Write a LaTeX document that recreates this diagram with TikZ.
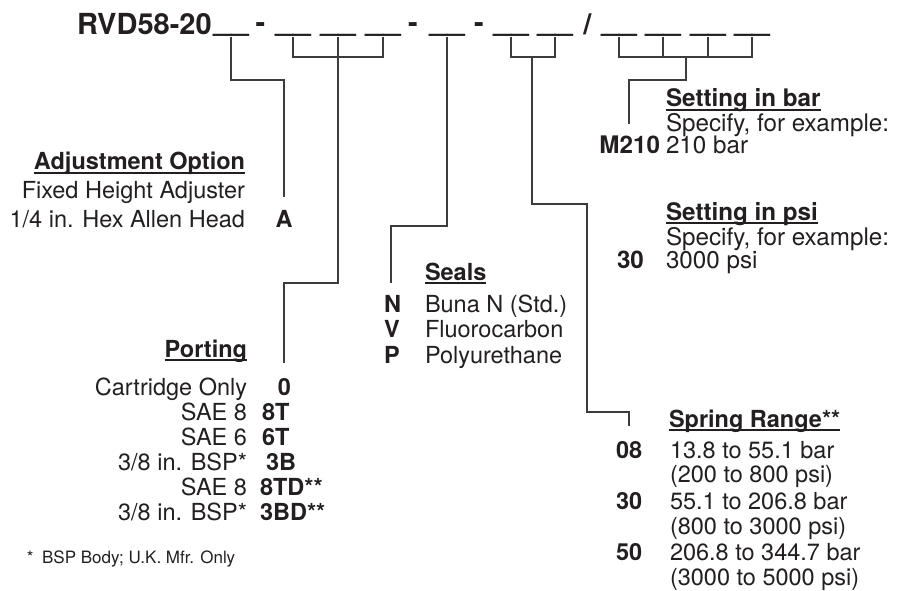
\documentclass[tikz,border=0pt]{standalone}
\usepackage{fontspec}
\setmainfont{TeX Gyre Heros}
\definecolor{ink}{RGB}{35,31,32}
\definecolor{wirec}{RGB}{60,60,60}
\newcommand\hdul[1]{\setbox0\hbox{#1}\rlap{\rule[-3.6pt]{\wd0}{1.3pt}}\box0}
\tikzset{
  txt/.style={inner sep=0pt, outer sep=0pt, text=ink, font=\fontsize{23.5}{25}\selectfont},
  bld/.style={txt, font=\fontsize{23.5}{25}\selectfont\bfseries},
  txtr/.style={txt, font=\fontsize{24.2}{25}\selectfont},
  bldr/.style={txt, font=\fontsize{24.2}{25}\selectfont\bfseries},
  foot/.style={txt, font=\fontsize{17}{19}\selectfont},
  ttl/.style={inner sep=0pt, outer sep=0pt, text=ink, font=\fontsize{29}{30}\selectfont\bfseries},
  us/.style={inner sep=0pt, outer sep=0pt, text=ink, font=\fontsize{31.5}{32}\selectfont\bfseries, anchor=base},
  wire/.style={draw=wirec, line width=1.3pt}
}
\begin{document}
\begin{tikzpicture}[x=1pt,y=-1pt]
\useasboundingbox (0,0) rectangle (908,591);
% title
\node[ttl, anchor=base west] (t0) at (77,35) {RVD58-20};
\node[us] (u1) at (231,31) {\_\_};
\node[ttl, anchor=base] (d1) at (260.5,33) {-};
\node[us] (u2) at (293,31) {\_\_};
\node[us] (u3) at (338,31) {\_\_};
\node[us] (u4) at (383,31) {\_\_};
\node[ttl, anchor=base] (d2) at (413,33) {-};
\node[us] (u5) at (447,31) {\_\_};
\node[ttl, anchor=base] (d3) at (479,33) {-};
\node[us] (u6) at (511,31) {\_\_};
\node[us] (u7) at (555,31) {\_\_};
\node[ttl, anchor=base] (sl) at (587.5,35) {/};
\node[us] (u8) at (619,31) {\_\_};
\node[us] (u9) at (663,31) {\_\_};
\node[us] (u10) at (708,31) {\_\_};
\node[us] (u11) at (752,31) {\_\_};

% coordinates
\coordinate (adjc) at (284,80);
\coordinate (adje) at (284,197);
\coordinate (pbr) at (338,57);
\coordinate (pc) at (284,283);
\coordinate (pe) at (284,363);
\coordinate (sc) at (391,226);
\coordinate (se) at (391,283);
\coordinate (sm) at (532,57);
\coordinate (k1) at (587,204);
\coordinate (k2) at (629,412);
\coordinate (k3) at (629,426);
\coordinate (bm) at (686,57);
\coordinate (bc) at (629,80);
\coordinate (be) at (629,124);

% connectors
\draw[wire] (u1.south) |- (adjc) -- (adje);
\draw[wire] (u2.south) -- (u2.south |- pbr) -- (u4.south |- pbr) -- (u4.south);
\draw[wire] (u3.south) |- (pc) -- (pe);
\draw[wire] (u5.south) |- (sc) -- (se);
\draw[wire] (u6.south) -- (u6.south |- sm) -- (u7.south |- sm) -- (u7.south);
\draw[wire] (sm) |- (k1) |- (k2) -- (k3);
\draw[wire] (u8.south) -- (u8.south |- bm) -- (u11.south |- bm) -- (u11.south);
\draw[wire] (u9.south) -- (u9.south |- bm);
\draw[wire] (u10.south) -- (u10.south |- bm);
\draw[wire] (bm) |- (bc) -- (be);

% Adjustment option
\node[bld, anchor=base east] (adjh) at (245,170) {\hdul{Adjustment Option}};
\node[txt, anchor=base east] (adj1) at (245,199) {Fixed Height Adjuster};
\node[txt, anchor=base east] (adj2) at (245,227) {1/4 in. Hex Allen Head};
\node[bld, anchor=base] (adjA) at (284,227) {A};

% Porting
\node[bld, anchor=base east] (porh) at (247,357) {\hdul{Porting}};
\node[txt, anchor=base east] (por1) at (247,395) {Cartridge Only};
\node[txt, anchor=base east] (por2) at (247,420) {SAE 8};
\node[txt, anchor=base east] (por3) at (247,445) {SAE 6};
\node[txt, anchor=base east] (por4) at (247,470) {3/8 in. BSP*};
\node[txt, anchor=base east] (por5) at (247,495) {SAE 8};
\node[txt, anchor=base east] (por6) at (247,520) {3/8 in. BSP*};
\node[bld, anchor=base] (pc1) at (284.5,395) {0};
\node[bld, anchor=base west] (pc2) at (262,420) {8T};
\node[bld, anchor=base west] (pc3) at (262,445) {6T};
\node[bld, anchor=base west] (pc4) at (266,470) {3B};
\node[bld, anchor=base west] (pc5) at (260,495) {8TD**};
\node[bld, anchor=base west] (pc6) at (260,520) {3BD**};
\node[foot, anchor=base west] (fn) at (27,563) {*\hspace{8.5pt}BSP Body; U.K. Mfr. Only};

% Seals
\node[bld, anchor=base west] (seh) at (425,280) {\hdul{Seals}};
\node[bld, anchor=base west] (sec1) at (384,312) {N};
\node[bld, anchor=base west] (sec2) at (384,337.5) {V};
\node[bld, anchor=base west] (sec3) at (384,363) {P};
\node[txt, anchor=base west] (se1) at (425,312) {Buna N (Std.)};
\node[txt, anchor=base west] (se2) at (425,337.5) {Fluorocarbon};
\node[txt, anchor=base west] (se3) at (425,363) {Polyurethane};

% Setting in bar
\node[bldr, anchor=base west] (sbh) at (666,107) {\hdul{Setting in bar}};
\node[txtr, anchor=base west] (sb1) at (666,132) {Specify, for example:};
\node[bldr, anchor=base east] (sbc) at (660,154) {M210};
\node[txtr, anchor=base west] (sb2) at (666,154) {210 bar};

% Setting in psi
\node[bldr, anchor=base west] (sph) at (666,220) {\hdul{Setting in psi}};
\node[txtr, anchor=base west] (sp1) at (666,245) {Specify, for example:};
\node[bldr, anchor=base west] (spc) at (617,268) {30};
\node[txtr, anchor=base west] (sp2) at (666,268) {3000 psi};

% Spring range
\node[bld, anchor=base west] (srh) at (669,427) {\hdul{Spring Range**}};
\node[bld, anchor=base west] (src1) at (616,458) {08};
\node[txt, anchor=base west] (sr1) at (670,458) {13.8 to 55.1 bar};
\node[txt, anchor=base west] (sr1b) at (670,482.5) {(200 to 800 psi)};
\node[bld, anchor=base west] (src2) at (616,509) {30};
\node[txt, anchor=base west] (sr2) at (670,509) {55.1 to 206.8 bar};
\node[txt, anchor=base west] (sr2b) at (670,534) {(800 to 3000 psi)};
\node[bld, anchor=base west] (src3) at (616,560) {50};
\node[txt, anchor=base west] (sr3) at (670,560) {206.8 to 344.7 bar};
\node[txt, anchor=base west] (sr3b) at (670,585) {(3000 to 5000 psi)};
\end{tikzpicture}
\end{document}
